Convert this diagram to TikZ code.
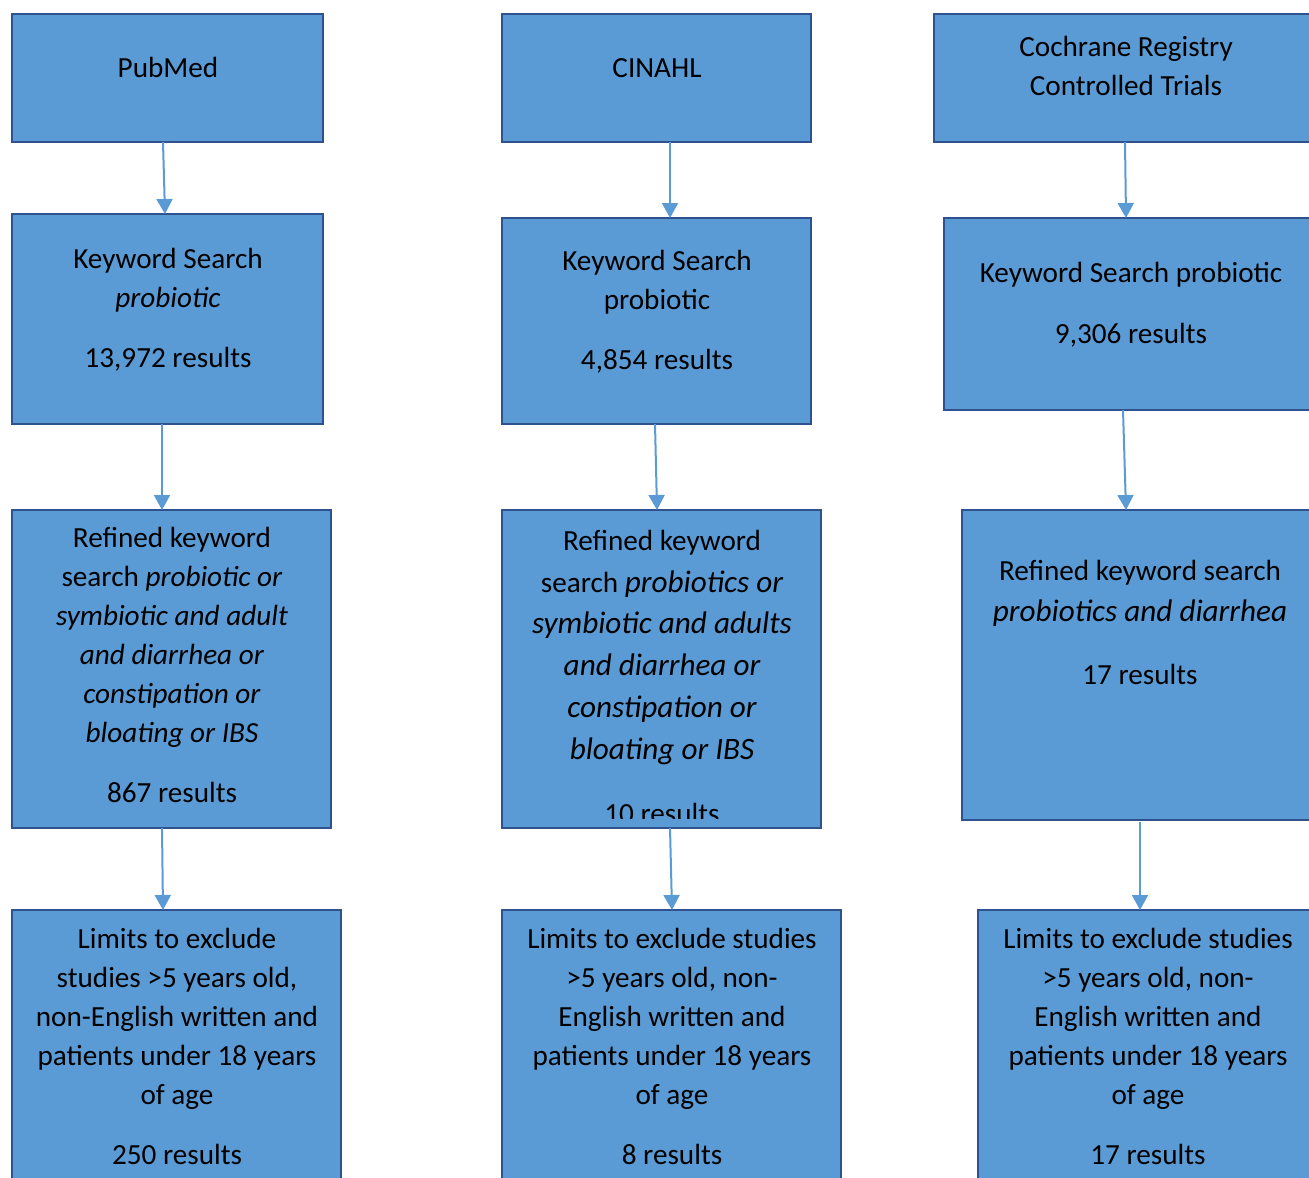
\documentclass[tikz,border=0pt]{standalone}
\usepackage{fontspec}
\setmainfont{Carlito}
\usetikzlibrary{arrows.meta}

\definecolor{boxfill}{HTML}{5B9BD5}
\definecolor{boxline}{HTML}{2F528F}
\newcommand\kwbig[1]{{\fontsize{15.6pt}{20.9pt}\selectfont\itshape #1}}

\tikzset{
box/.style={
  rectangle,
  draw=boxline,
  fill=boxfill,
  line width=1.2pt,
  inner sep=0pt,
  outer sep=0pt,
},
txt/.style={
  draw=none,
  align=center,
  inner sep=0pt,
  anchor=base,
  font=\fontsize{14.6pt}{19.5pt}\selectfont,
},
arr/.style={
  draw=boxfill,
  line width=1pt,
  -{Triangle[width=8pt,length=7.5pt]},
},
}

\begin{document}
\begin{tikzpicture}[x=0.5pt, y=-0.5pt]
\clip (0,0) rectangle (1309,1177);

%column 1
\node[box, minimum width=155.5pt, minimum height=64pt](pm) at (167.5,78) {};
\node[box, minimum width=155.5pt, minimum height=105pt](ks1) at (167.5,319) {};
\node[box, minimum width=159.5pt, minimum height=159pt](r1) at (171.5,669) {};
\node[box, minimum width=164.5pt, minimum height=140pt](l1) at (176.5,1050) {};
\node[txt](pmtxt) at (168,77) {PubMed};
\node[txt](ks1txt) at (168,367) {Keyword Search\\ \textit{probiotic}\\[10.5pt] 13,972 results};
\node[txt](r1txt) at (172,802) {Refined keyword\\ search \textit{probiotic or}\\ \textit{symbiotic and adult}\\ \textit{and diarrhea or}\\ \textit{constipation or}\\ \textit{bloating or IBS}\\[10.5pt] 867 results};
\node[txt](l1txt) at (177,1164) {Limits to exclude\\ studies >5 years old,\\ non-English written and\\ patients under 18 years\\ of age\\[10.5pt] 250 results};

%column 2
\node[box, minimum width=154.5pt, minimum height=64pt](cin) at (656.5,78) {};
\node[box, minimum width=154.5pt, minimum height=103pt](ks2) at (656.5,321) {};
\node[box, minimum width=159.5pt, minimum height=159pt](r2) at (661.5,669) {};
\node[box, minimum width=169.5pt, minimum height=140pt](l2) at (671.5,1050) {};
\node[txt](cintxt) at (657,77) {CINAHL};
\node[txt](ks2txt) at (657,369) {Keyword Search\\ probiotic\\[10.5pt] 4,854 results};
\begin{scope}
\clip (502,500) rectangle (821,818);
\node[txt, font=\fontsize{14.6pt}{20.9pt}\selectfont](r2txt) at (662,823) {Refined keyword\\ search \kwbig{probiotics or}\\ \kwbig{symbiotic and adults}\\ \kwbig{and diarrhea or}\\ \kwbig{constipation or}\\ \kwbig{bloating or IBS}\\[11pt] 10 results};
\end{scope}
\node[txt](l2txt) at (672,1164) {Limits to exclude studies\\ >5 years old, non-\\ English written and\\ patients under 18 years\\ of age\\[10.5pt] 8 results};

%column 3
\node[box, minimum width=198pt, minimum height=64pt](coch) at (1132,78) {};
\node[box, minimum width=193pt, minimum height=96pt](ks3) at (1137,314) {};
\node[box, minimum width=184pt, minimum height=155pt](r3) at (1146,665) {};
\node[box, minimum width=176pt, minimum height=140pt](l3) at (1154,1050) {};
\node[txt](cochtxt) at (1126,96) {Cochrane Registry\\ Controlled Trials};
\node[txt](ks3txt) at (1131,343) {Keyword Search probiotic\\[11pt] 9,306 results};
\node[txt, font=\fontsize{14.6pt}{20.5pt}\selectfont](r3txt) at (1140,684) {Refined keyword search\\ \kwbig{probiotics and diarrhea}\\[11pt] 17 results};
\node[txt](l3txt) at (1148,1164) {Limits to exclude studies\\ >5 years old, non-\\ English written and\\ patients under 18 years\\ of age\\[10.5pt] 17 results};

%arrows
\draw[arr]([xshift=-2.25pt]pm.south) -- ([xshift=-1.25pt]ks1.north);
\draw[arr]([xshift=-2.75pt]ks1.south) -- ([xshift=-4.75pt]r1.north);
\draw[arr]([xshift=-4.75pt]r1.south) -- ([xshift=-6.75pt]l1.north);
\draw[arr]([xshift=6.75pt]cin.south) -- ([xshift=6.75pt]ks2.north);
\draw[arr]([xshift=-0.75pt]ks2.south) -- ([xshift=-2.25pt]r2.north);
\draw[arr]([xshift=4.25pt]r2.south) -- ([xshift=0.25pt]l2.north);
\draw[arr]([xshift=-3.5pt]coch.south) -- ([xshift=-5.5pt]ks3.north);
\draw[arr]([xshift=-7pt]ks3.south) -- ([xshift=-10pt]r3.north);
\draw[arr]([xshift=-3pt,yshift=-1pt]r3.south) -- ([xshift=-7pt]l3.north);

\end{tikzpicture}
\end{document}
